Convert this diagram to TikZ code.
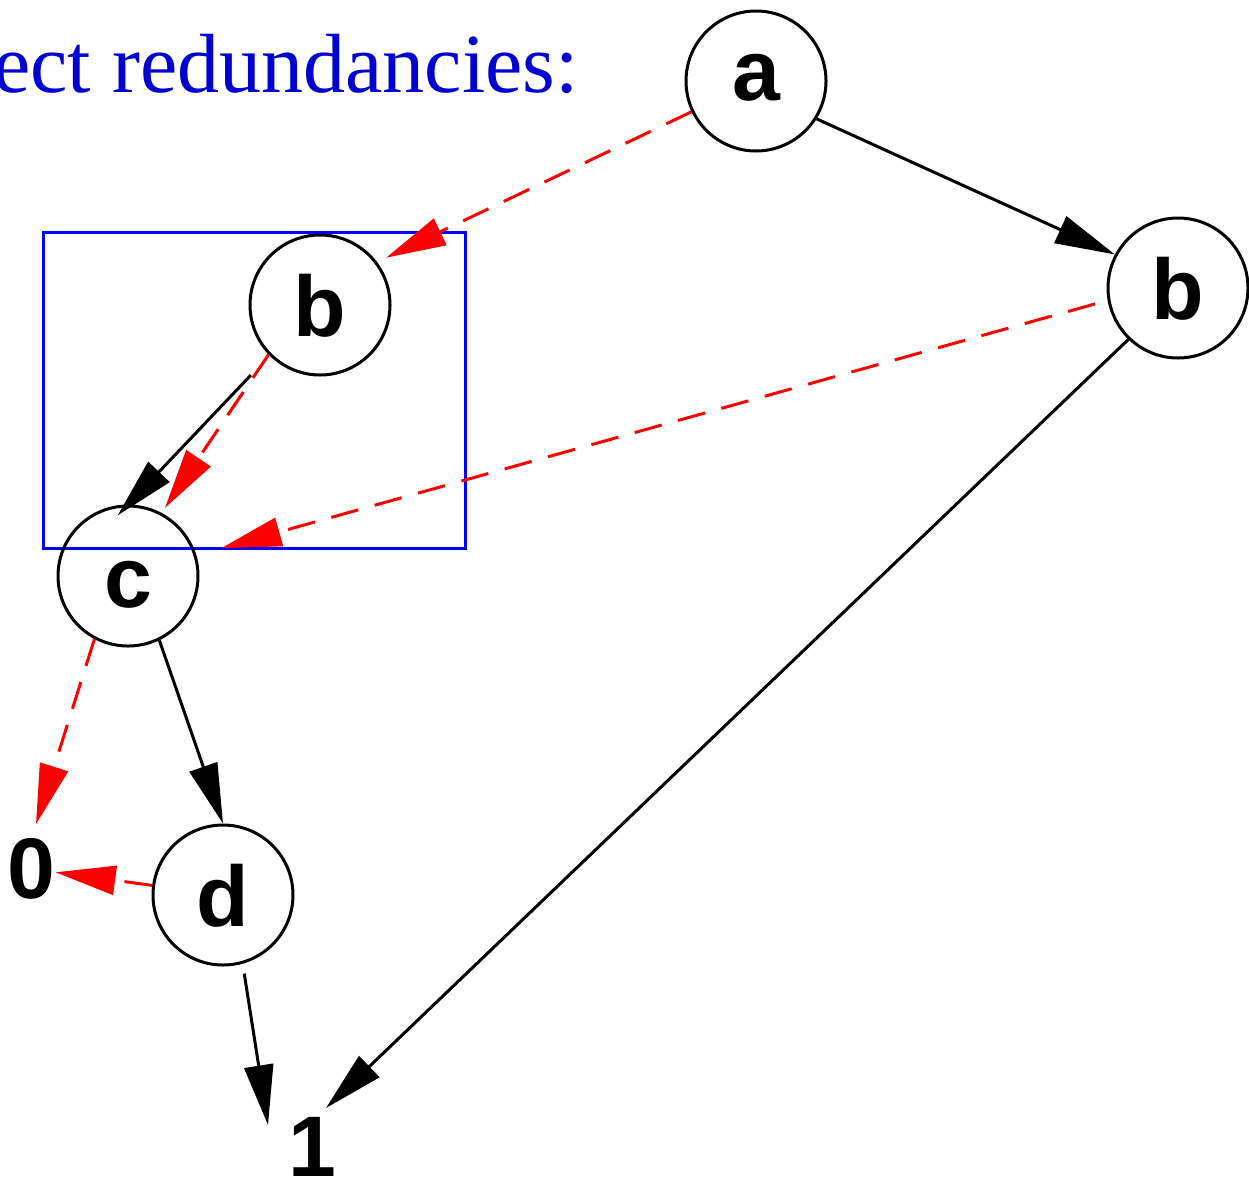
\documentclass[tikz,border=0pt]{standalone}
\usepackage{fontspec}
\setmainfont{Liberation Serif}
\newfontfamily\lsans{Liberation Sans}
\usetikzlibrary{arrows.meta}
\definecolor{titleblue}{RGB}{0,0,208}
\definecolor{rectblue}{RGB}{0,0,255}
\begin{document}
\begin{tikzpicture}[x=1pt,y=-1pt,
  vtx/.style={circle,draw=black,line width=3pt,minimum size=140pt,inner sep=0pt,
    text height=62pt,text depth=0pt,font=\lsans\bfseries\fontsize{86}{86}\selectfont},
  term/.style={inner sep=0pt,font=\lsans\bfseries\fontsize{86}{86}\selectfont},
  solidedge/.style={draw=black,line width=3pt,-{Triangle[length=60pt,width=29pt]}},
  dashedge/.style={draw=red,line width=3pt,dash pattern=on 28pt off 17pt,
    -{Triangle[length=60pt,width=29pt]}},
  subgraph/.style={draw=rectblue,line width=3pt}
]
\useasboundingbox (0,0) rectangle (1249,1184);
\clip (0,0) rectangle (1249,1184);

\node[anchor=base west,inner sep=0pt,text=titleblue,font=\fontsize{84}{84}\selectfont]
  (title) at (-7,92) {ect redundancies:};

\draw[subgraph] (43,232) rectangle (465,548);

\node[vtx] (a)  at (756,81)   {\raisebox{12pt}{a}};
\node[vtx] (br) at (1178,288) {b};
\node[vtx] (bl) at (320,305)  {b};
\node[vtx] (c)  at (128,576)  {c};
\node[vtx] (d)  at (223,895)  {d};
\node[term] (zero) at (31.5,869) {0};
\node[term] (one)  at (312,1146.5) {1};
\coordinate (onetipL) at (268,1125);
\coordinate (onetipR) at (326,1108);

\draw[solidedge] (a.-32) -- (br.152);
\draw[dashedge, shorten >=10pt] (a) -- (bl.37);
\draw[dashedge, shorten <=13pt, shorten >=26pt] (br.190) -- (c.17);
\draw[solidedge, shorten <=27pt, shorten >=-15pt] (bl.225) -- (c.90);
\draw[dashedge, shorten >=6pt] (bl.224) -- (c.62);
\draw[dashedge, shorten >=15pt] (c.242) -- (zero.north);
\draw[solidedge] (c.296) -- (d.90);
\draw[dashedge] (d) -- (zero);
\draw[solidedge, shorten <=10pt] (d.-74) -- (onetipL);
\draw[solidedge] (br.226) -- (onetipR);
\end{tikzpicture}
\end{document}
